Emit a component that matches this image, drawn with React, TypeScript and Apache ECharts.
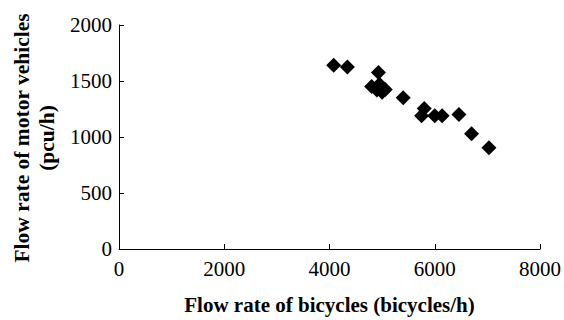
import React, { useEffect, useRef } from "react";
import * as echarts from "echarts";

const bicycleFlow = [4080, 4340, 4930, 4800, 4950, 5060, 4900, 5000, 5400, 5800, 5750, 6000, 6140, 6460, 6700, 7030];
const motorFlow = [1640, 1625, 1575, 1450, 1470, 1425, 1420, 1400, 1350, 1255, 1190, 1190, 1190, 1200, 1030, 905];
const xTicks = [0, 2000, 4000, 6000, 8000];
const yTicks = [0, 500, 1000, 1500, 2000];
const xTitle = "Flow rate of bicycles (bicycles/h)";
const yTitle = "Flow rate of motor vehicles\n(pcu/h)";

export default function App() {
  const ref = useRef<HTMLDivElement>(null);
  useEffect(() => {
    if (!ref.current) return;
    const chart = echarts.init(ref.current, undefined, { renderer: "svg" });
    const font = "Liberation Serif";
    const labelStyle = {
      fontFamily: font,
      fontSize: 21,
      color: "#000",
      formatter: (v: number) => String(v),
    };
    chart.setOption({
      animation: false,
      backgroundColor: "#ffffff",
      textStyle: { fontFamily: font, color: "#000" },
      grid: { left: 119, right: 20, top: 25, bottom: 68 },
      xAxis: {
        type: "value",
        min: xTicks[0],
        max: xTicks[xTicks.length - 1],
        interval: 2000,
        name: xTitle,
        nameLocation: "middle",
        nameGap: 45,
        nameTextStyle: { fontFamily: font, fontSize: 21, fontWeight: "bold", color: "#000" },
        axisLine: { show: true, lineStyle: { color: "#000", width: 1 } },
        axisTick: { show: true, inside: true, length: 5, lineStyle: { color: "#000" } },
        axisLabel: { ...labelStyle, margin: 9 },
        splitLine: { show: false },
      },
      yAxis: {
        type: "value",
        min: yTicks[0],
        max: yTicks[yTicks.length - 1],
        interval: 500,
        axisLine: { show: true, lineStyle: { color: "#000", width: 1 } },
        axisTick: { show: true, inside: true, length: 5, lineStyle: { color: "#000" } },
        axisLabel: { ...labelStyle, margin: 7 },
        splitLine: { show: false },
      },
      graphic: [
        {
          type: "text",
          x: 34,
          y: 138,
          rotation: Math.PI / 2,
          style: {
            text: yTitle,
            fontFamily: font,
            fontSize: 21.5,
            fontWeight: "bold",
            fill: "#000",
            align: "center",
            verticalAlign: "middle",
            lineHeight: 25,
          },
        },
      ],
      series: [
        {
          type: "scatter",
          symbol: "diamond",
          symbolSize: 15,
          itemStyle: { color: "#000", opacity: 1 },
          data: bicycleFlow.map((x, i) => [x, motorFlow[i]]),
        },
      ],
    });
    return () => chart.dispose();
  }, []);
  return <div ref={ref} style={{ position: "fixed", left: 0, top: 0, width: 564, height: 320 }} />;
}
